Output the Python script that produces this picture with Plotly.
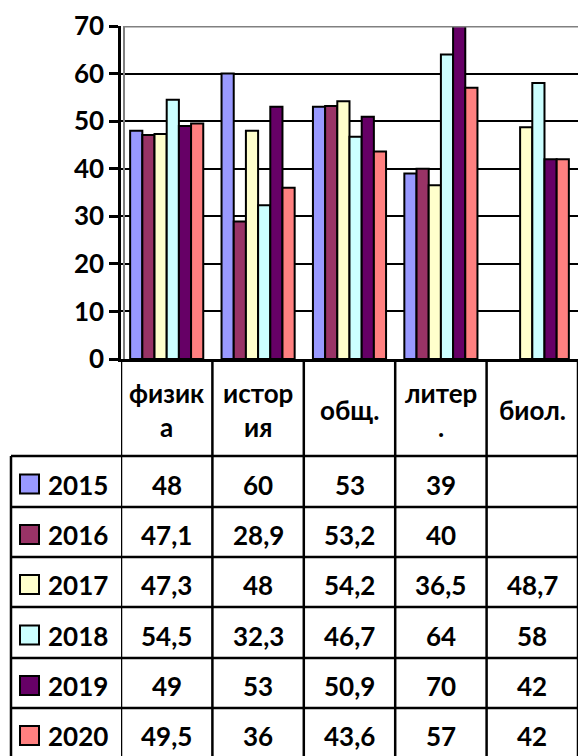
import plotly.graph_objects as go

categories = ["физика", "история", "общ.", "литер.", "биол."]
header_labels = ["физик<br>а", "истор<br>ия", "общ.", "литер<br>.", "биол."]
years = ["2015", "2016", "2017", "2018", "2019", "2020"]
v2015 = [48, 60, 53, 39, None]
v2016 = [47.1, 28.9, 53.2, 40, None]
v2017 = [47.3, 48, 54.2, 36.5, 48.7]
v2018 = [54.5, 32.3, 46.7, 64, 58]
v2019 = [49, 53, 50.9, 70, 42]
v2020 = [49.5, 36, 43.6, 57, 42]
series = [v2015, v2016, v2017, v2018, v2019, v2020]
y_ticks = [0, 10, 20, 30, 40, 50, 60, 70]

colors = ["#9999FF", "#993366", "#FFFFCC", "#CCFFFF", "#660066", "#FF8080"]

# the page body adds an 8px margin around the figure
OFFX, OFFY = 8, 8
W, H = 570, 748
FONT = "Lato"
FS = 26


def px(x):
    return min(max((x - OFFX) / W, 0), 1)


def py(y):
    return min(max(1 - (y - OFFY) / H, 0), 1)


def fmt(v):
    if v is None:
        return ""
    if float(v).is_integer():
        return str(int(v))
    return str(v).replace(".", ",")


fig = go.Figure()
for name, vals, c in zip(years, series, colors):
    fig.add_trace(go.Bar(
        x=categories, y=vals, name=name,
        marker=dict(color=c, line=dict(color="black", width=2)),
        showlegend=False,
    ))

x_left, x_right = 121, 578
y_top, y_bot = 26, 359

shapes = []
# back wall lines (grey)
shapes.append(dict(type="line", xref="paper", yref="y", x0=px(x_left + 3), x1=1, y0=70, y1=70,
                   line=dict(color="#808080", width=3), layer="above"))
shapes.append(dict(type="line", xref="paper", yref="paper", x0=px(x_left + 3), x1=px(x_left + 3),
                   y0=py(y_bot), y1=py(y_top), line=dict(color="#808080", width=2)))

# table
row_lines = [456, 507, 557, 607, 658, 708]
row_bounds = row_lines + [758]
table_left = 11
for i in range(len(categories) + 1):
    shapes.append(dict(type="line", xref="x", yref="paper", x0=i - 0.5, x1=i - 0.5,
                       y0=0, y1=py(y_bot), line=dict(color="black", width=2.5)))
shapes.append(dict(type="line", xref="paper", yref="paper", x0=px(table_left), x1=px(table_left),
                   y0=0, y1=py(row_lines[0]), line=dict(color="black", width=2.5)))
for ry in row_lines:
    shapes.append(dict(type="line", xref="paper", yref="paper", x0=px(table_left), x1=px(x_right),
                       y0=py(ry), y1=py(ry), line=dict(color="black", width=2.5)))

annotations = []
tfont = dict(family=FONT, size=FS, color="black", weight=700)
for i, lab in enumerate(header_labels):
    annotations.append(dict(x=i, xref="x", y=py(410), yref="paper", text=lab, showarrow=False,
                            font=tfont, xanchor="center", yanchor="middle"))

for r, (name, vals, c) in enumerate(zip(years, series, colors)):
    rc = (row_bounds[r] + row_bounds[r + 1]) / 2
    shapes.append(dict(type="rect", xref="paper", yref="paper",
                       x0=px(20), x1=px(39), y0=py(rc + 12), y1=py(rc - 7),
                       fillcolor=c, line=dict(color="black", width=2)))
    annotations.append(dict(x=px(46), xref="paper", y=py(rc + 3), yref="paper", text=name,
                            showarrow=False, font=tfont, xanchor="left", yanchor="middle"))
    for i, v in enumerate(vals):
        annotations.append(dict(x=i, xref="x", y=py(rc + 3), yref="paper", text=fmt(v),
                                showarrow=False, font=tfont, xanchor="center", yanchor="middle"))

fig.update_layout(
    width=W, height=H,
    margin=dict(l=0, r=0, t=0, b=0, autoexpand=False),
    paper_bgcolor="white", plot_bgcolor="white",
    barmode="group", bargap=0.2, bargroupgap=0,
    xaxis=dict(domain=[px(x_left), px(x_right)], range=[-0.5, 4.5], showticklabels=False,
               showgrid=False, zeroline=False, showline=True, linecolor="black", linewidth=3,
               ticks="", automargin=False),
    yaxis=dict(domain=[py(y_bot), py(y_top)], range=[0, 70], tickvals=y_ticks,
               showgrid=True, gridcolor="black", gridwidth=2, zeroline=False,
               showline=True, linecolor="black", linewidth=2.5, ticks="outside",
               ticklen=9, tickwidth=2.5, tickcolor="black", ticklabeloverflow="allow",
               automargin=False,
               tickfont=dict(family=FONT, size=FS, color="black", weight=700)),
    shapes=shapes, annotations=annotations,
)

fig.write_html("out.html")
